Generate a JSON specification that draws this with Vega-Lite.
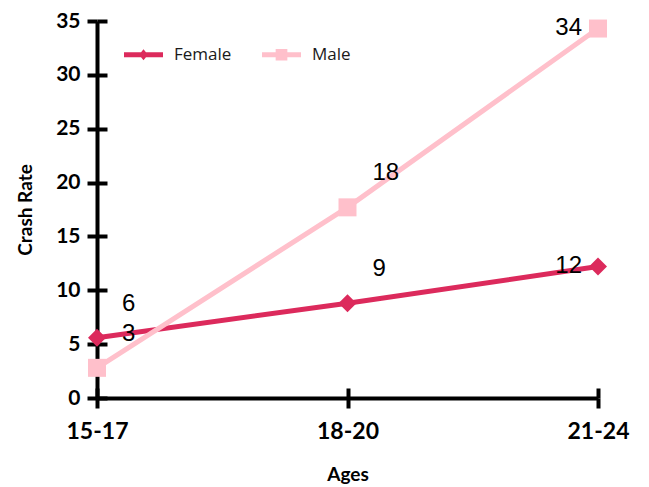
{
  "$schema": "https://vega.github.io/schema/vega-lite/v6.json",
  "width": 501,
  "height": 377,
  "autosize": "none",
  "padding": {"left": 97, "top": 21, "right": 51, "bottom": 89},
  "background": "white",
  "config": {
    "view": {"stroke": null},
    "axis": {"grid": false, "domainColor": "black", "domainWidth": 4, "tickColor": "black", "tickWidth": 4, "labelColor": "black", "titleColor": "black", "labelFont": "Lato", "titleFont": "Lato", "labelFontWeight": "bold", "titleFontWeight": "bold", "titleFontSize": 19}
  },
  "resolve": {"scale": {"x": "shared", "y": "shared"}, "axis": {"x": "independent", "y": "independent"}},
  "data": {
    "values": [
      {"Age": "15-17", "Sex": "Female", "Rate": 5.6},
      {"Age": "18-20", "Sex": "Female", "Rate": 8.8},
      {"Age": "21-24", "Sex": "Female", "Rate": 12.2},
      {"Age": "15-17", "Sex": "Male", "Rate": 2.8},
      {"Age": "18-20", "Sex": "Male", "Rate": 17.7},
      {"Age": "21-24", "Sex": "Male", "Rate": 34.3}
    ]
  },
  "layer": [
    {
      "mark": {"type": "line", "strokeWidth": 5},
      "encoding": {
        "x": {"field": "Age", "type": "ordinal", "scale": {"type": "point", "padding": 0}, "sort": ["15-17", "18-20", "21-24"], "axis": {"title": "Ages", "orient": "bottom", "labelAngle": 0, "labelFontSize": 23, "titleFontSize": 19, "tickSize": 10, "labelPadding": 12, "titlePadding": 22}},
        "y": {"field": "Rate", "type": "quantitative", "scale": {"domain": [0, 35], "nice": false}, "axis": {"title": "Crash Rate", "orient": "left", "values": [0, 5, 10, 15, 20, 25, 30, 35], "labelFontSize": 21, "titleFontSize": 19, "tickSize": 10, "labelPadding": 7, "titlePadding": 20}},
        "color": {
          "field": "Sex", "type": "nominal",
          "scale": {"domain": ["Female", "Male"], "range": ["#dc2a5c", "#ffc0cb"]},
          "legend": {
            "title": null, "orient": "none", "direction": "horizontal", "legendX": 27, "legendY": 14,
            "labelFont": "Open Sans", "labelFontSize": 17, "labelColor": "#1a1a1a", "labelOffset": 11, "columnPadding": 30,
            "symbolSize": 1521,
            "encode": {"symbols": {"update": {
              "stroke": {"value": "transparent"},
              "strokeWidth": {"value": 0},
              "opacity": {"value": 1},
              "size": {"value": 1521}
            }}}
          }
        }
      }
    },
    {
      "mark": {"type": "point", "filled": true, "opacity": 0, "size": 1},
      "encoding": {
        "x": {"field": "Age", "type": "ordinal", "sort": ["15-17", "18-20", "21-24"], "axis": null},
        "y": {"field": "Rate", "type": "quantitative", "axis": null},
        "color": {"field": "Sex", "type": "nominal"},
        "shape": {"field": "Sex", "type": "nominal", "scale": {"domain": ["Female", "Male"], "range": ["M-1,-0.13H1V0.13H-1Z M0,-0.28L0.23,0L0,0.28L-0.23,0Z", "M-1,-0.13H1V0.13H-1Z M-0.3,-0.3H0.3V0.3H-0.3Z"]}, "legend": null}
      }
    },
    {
      "transform": [{"filter": "datum.Sex === 'Female'"}],
      "mark": {"type": "point", "filled": true, "size": 324, "opacity": 1, "shape": "diamond", "color": "#dc2a5c"},
      "encoding": {
        "x": {"field": "Age", "type": "ordinal", "sort": ["15-17", "18-20", "21-24"], "axis": {"orient": "bottom", "title": null, "labels": false, "domain": false, "tickSize": -10}},
        "y": {"field": "Rate", "type": "quantitative", "axis": {"orient": "left", "title": null, "labels": false, "domain": false, "tickSize": -10, "values": [0, 5, 10, 15, 20, 25, 30, 35]}}
      }
    },
    {
      "transform": [{"filter": "datum.Sex === 'Male'"}],
      "mark": {"type": "point", "filled": true, "size": 324, "opacity": 1, "shape": "square", "color": "#ffc0cb"},
      "encoding": {
        "x": {"field": "Age", "type": "ordinal", "sort": ["15-17", "18-20", "21-24"], "axis": null},
        "y": {"field": "Rate", "type": "quantitative", "axis": null}
      }
    },
    {
      "transform": [{"filter": "datum.Age !== '21-24'"}],
      "mark": {"type": "text", "align": "left", "baseline": "middle", "dx": 25, "dy": -34, "font": "Liberation Sans", "fontSize": 24, "color": "black"},
      "encoding": {
        "x": {"field": "Age", "type": "ordinal", "sort": ["15-17", "18-20", "21-24"], "axis": null},
        "y": {"field": "Rate", "type": "quantitative", "axis": null},
        "text": {"field": "Rate", "type": "quantitative", "format": ".0f"}
      }
    },
    {
      "transform": [{"filter": "datum.Age === '21-24'"}],
      "mark": {"type": "text", "align": "right", "baseline": "middle", "dx": -16, "dy": -1, "font": "Liberation Sans", "fontSize": 24, "color": "black"},
      "encoding": {
        "x": {"field": "Age", "type": "ordinal", "sort": ["15-17", "18-20", "21-24"], "axis": null},
        "y": {"field": "Rate", "type": "quantitative", "axis": null},
        "text": {"field": "Rate", "type": "quantitative", "format": ".0f"}
      }
    }
  ]
}
